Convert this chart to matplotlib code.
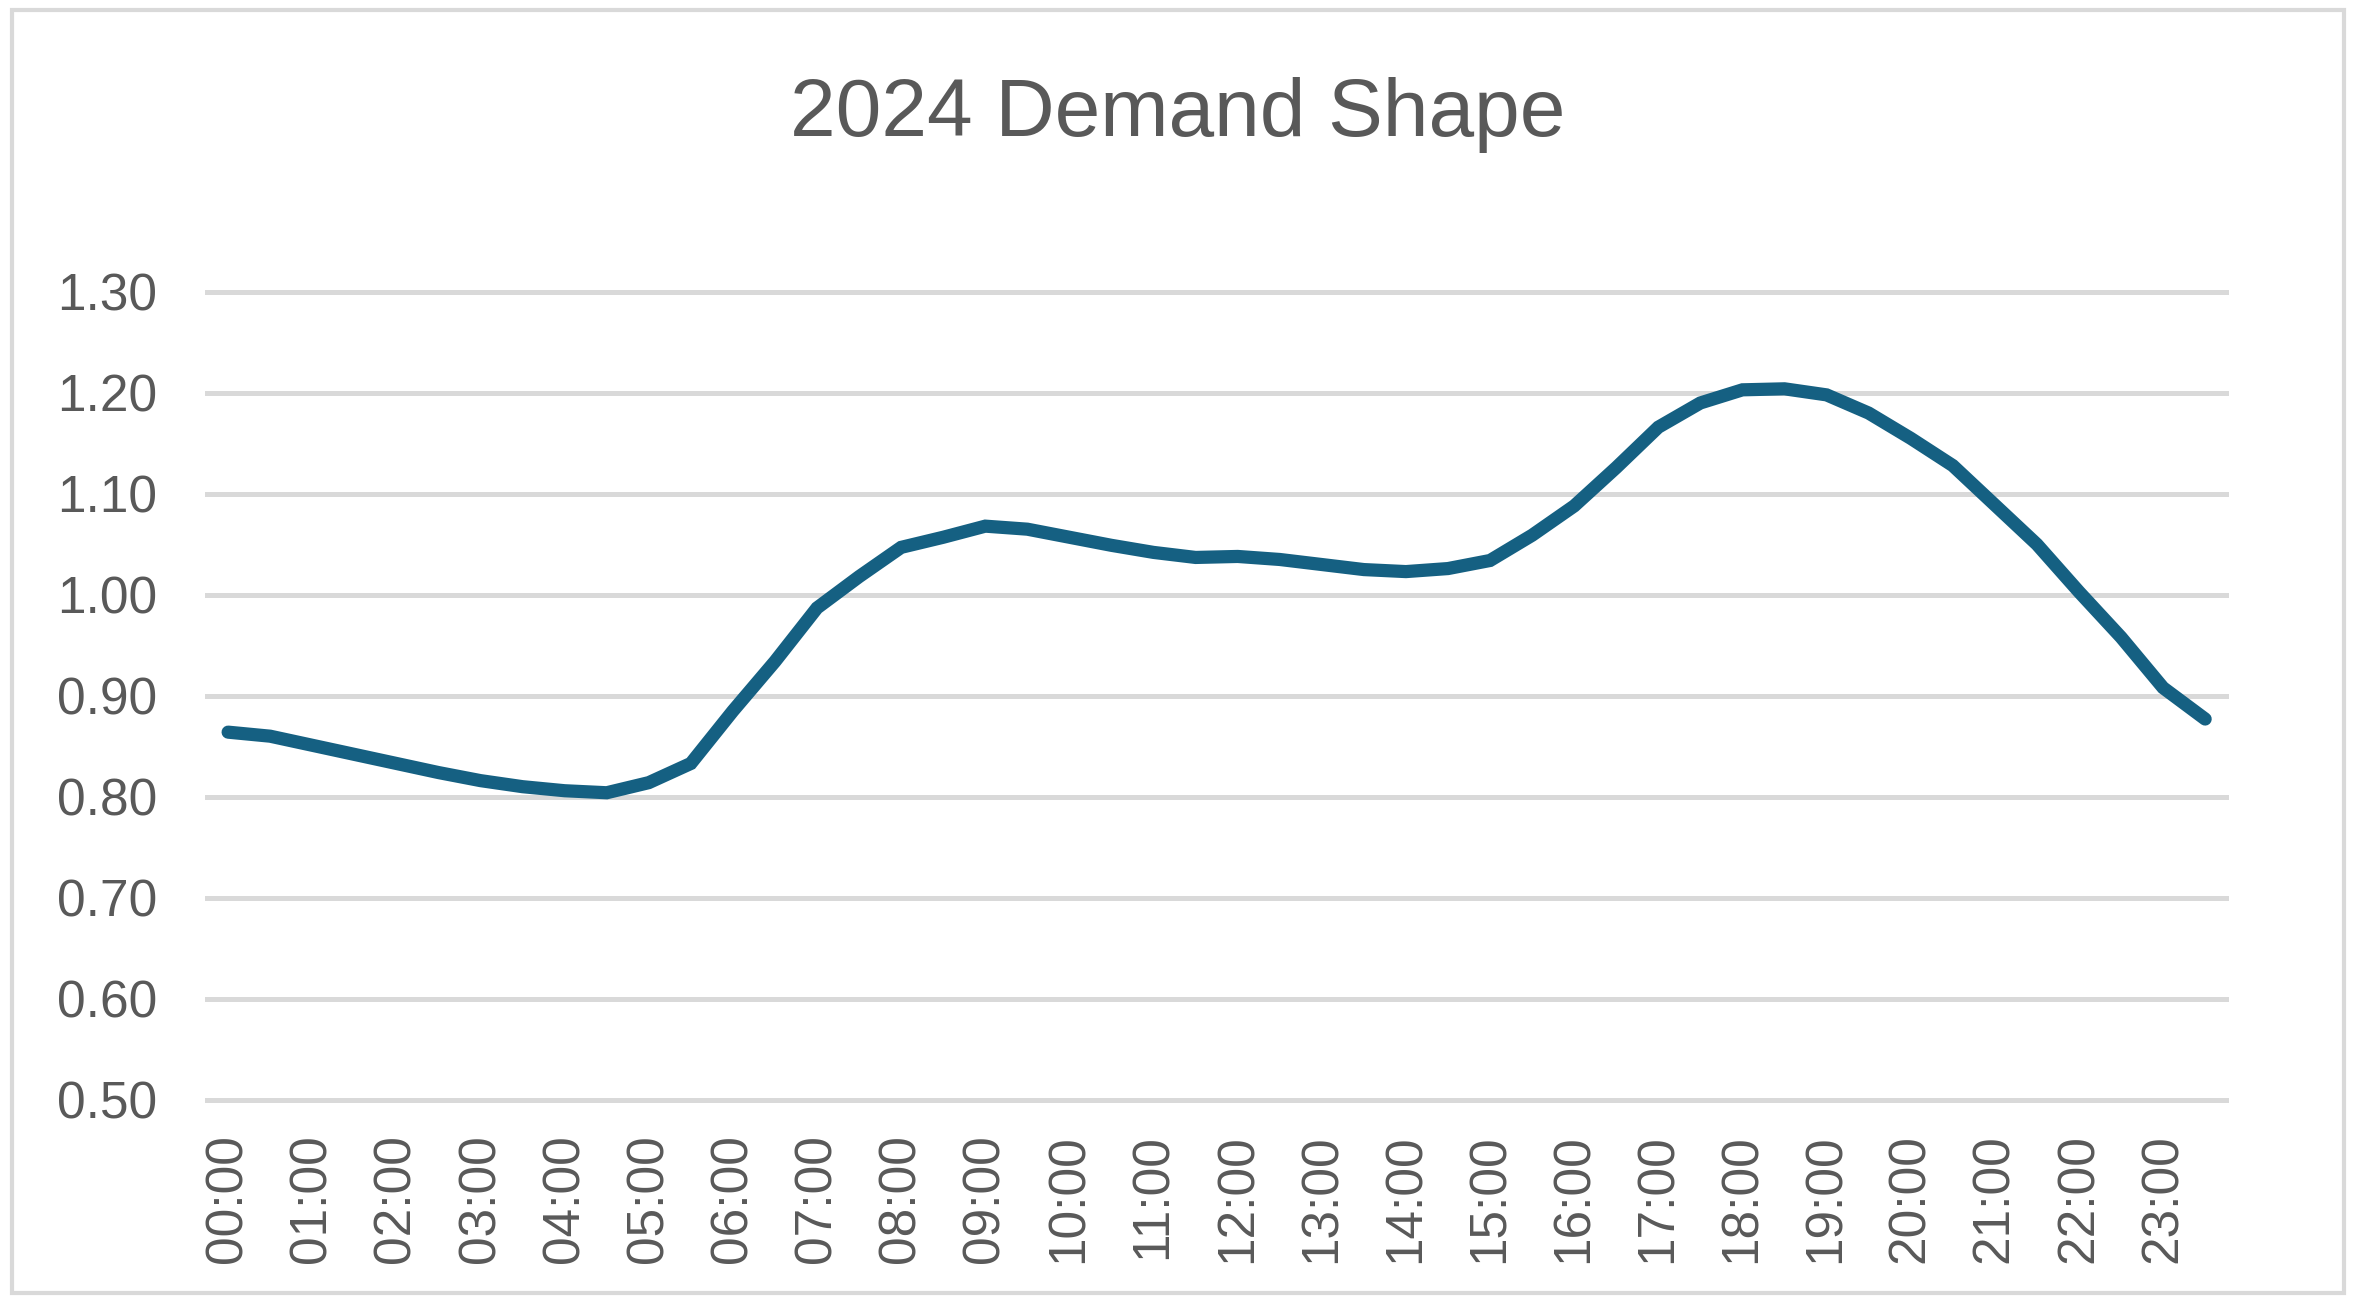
import matplotlib
matplotlib.use("Agg")
import matplotlib.pyplot as plt
from matplotlib.patches import Rectangle

# Half-hourly periods 00:00 .. 23:30
times = [f"{h:02d}:{m:02d}" for h in range(24) for m in (0, 30)]
demand = [0.864, 0.860, 0.851, 0.842, 0.833, 0.824, 0.816, 0.810, 0.806, 0.804,
          0.814, 0.833, 0.885, 0.934, 0.987, 1.018, 1.047, 1.057, 1.068, 1.065,
          1.057, 1.049, 1.042, 1.037, 1.038, 1.035, 1.030, 1.025, 1.023, 1.026,
          1.034, 1.059, 1.088, 1.126, 1.166, 1.190, 1.203, 1.204, 1.198, 1.180,
          1.155, 1.128, 1.089, 1.050, 1.003, 0.958, 0.908, 0.877]
yticks = [0.50, 0.60, 0.70, 0.80, 0.90, 1.00, 1.10, 1.20, 1.30]
title = "2024 Demand Shape"

TEXT = "#595959"
GRID = "#D9D9D9"
LINE = "#156082"
plt.rcParams['font.family'] = ['Liberation Sans', 'DejaVu Sans']

fig = plt.figure(figsize=(23.56, 13.03), dpi=100)
ax = fig.add_axes([0.0879, 0.156, 0.857, 0.620])

x = list(range(len(times)))
ax.plot(x, demand, color=LINE, lw=9.5, solid_capstyle='round', solid_joinstyle='miter', zorder=3)

ax.set_xlim(-0.5, len(times) - 0.5)
ax.set_ylim(0.5, 1.3)
ax.set_yticks(yticks)
ax.set_yticklabels([f"{v:.2f}" for v in yticks])
hour_idx = [i for i, t in enumerate(times) if t.endswith(":00")]
ax.set_xticks(hour_idx)
ax.set_xticklabels([times[i] for i in hour_idx], rotation=90, va='top', ha='center')

ax.grid(axis='y', color=GRID, lw=3.6, zorder=0)
ax.grid(axis='x', visible=False)
for gl in ax.get_ygridlines():
    gl.set_clip_on(False)
for s in ax.spines.values():
    s.set_visible(False)
ax.tick_params(axis='both', length=0, colors=TEXT, labelsize=37)
ax.tick_params(axis='y', pad=36)
ax.tick_params(axis='x', pad=25)

fig.text(0.5, 0.912, title, ha='center', va='center', fontsize=59, color=TEXT)

fig.patches.append(Rectangle((0.005, 0.008), 0.99, 0.984, transform=fig.transFigure,
                             fill=False, edgecolor=GRID, lw=3))

fig.savefig("out.png", dpi=100, facecolor="white")
